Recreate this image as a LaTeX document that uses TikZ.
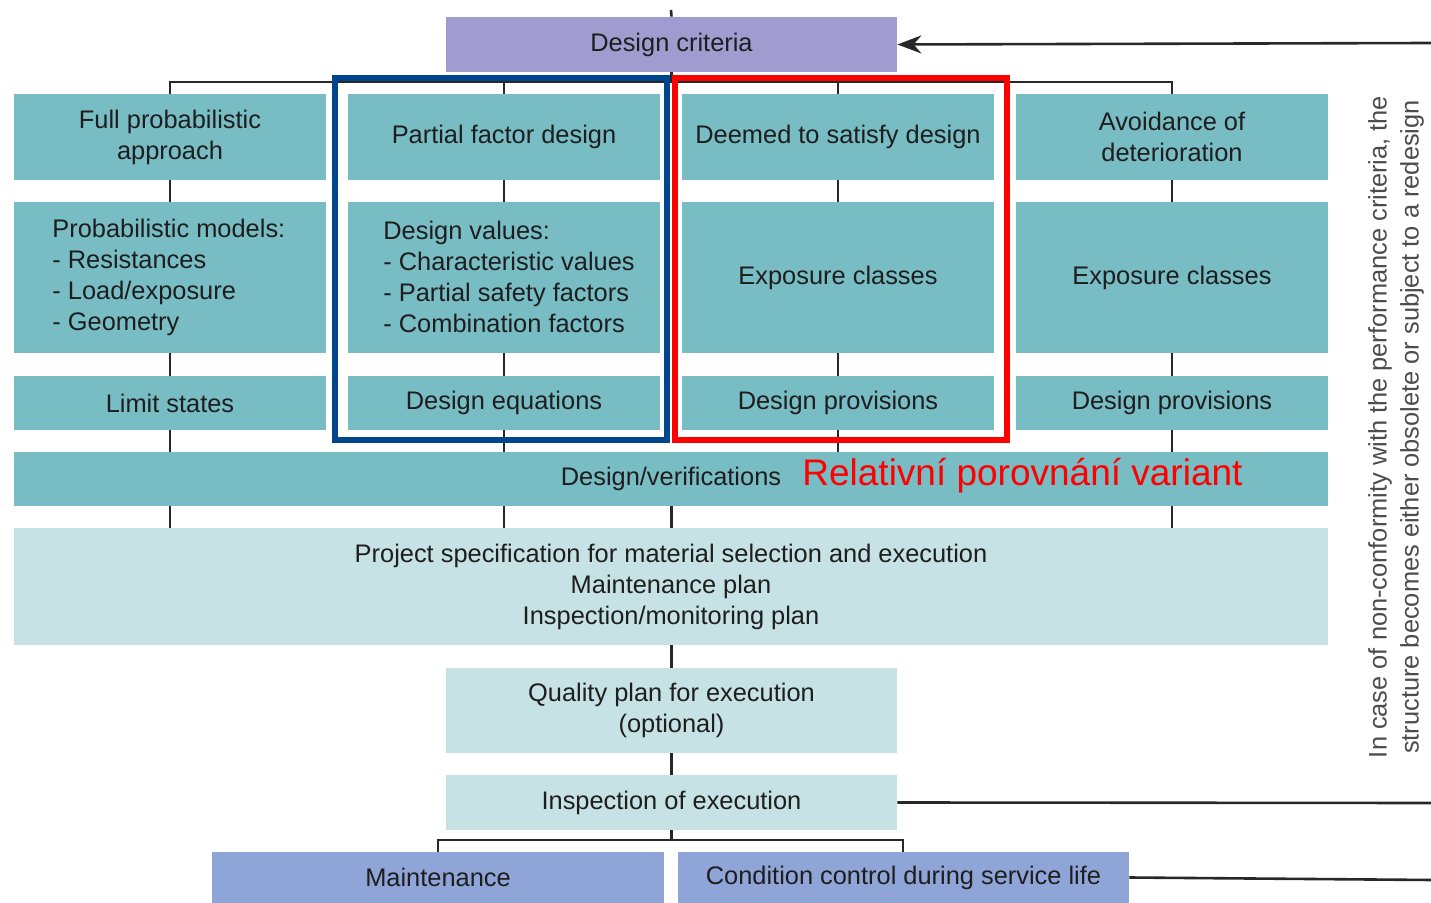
\documentclass[tikz,border=0pt]{standalone}
\usepackage{fontspec}
\setmainfont{Liberation Sans}
\usetikzlibrary{arrows.meta}
\definecolor{teal1}{RGB}{120,188,196}
\definecolor{light1}{RGB}{198,226,228}
\definecolor{lav1}{RGB}{160,156,208}
\definecolor{lav2}{RGB}{143,165,216}
\definecolor{blue1}{RGB}{0,70,140}
\definecolor{red1}{RGB}{255,0,0}
\definecolor{txt}{RGB}{30,30,30}
\definecolor{lin}{RGB}{40,40,40}
\tikzset{
  every node/.style={font=\fontsize{12.7pt}{15.5pt}\selectfont, text=txt},
  box/.style={rectangle, inner sep=2pt, align=center, minimum width=156pt},
  tealbox/.style={box, fill=teal1},
  lightbox/.style={box, fill=light1},
  listtext/.style={anchor=west, align=left, inner sep=0pt},
  conn/.style={draw=lin, line width=1.3pt},
  frame/.style={line width=2.6pt}
}
\begin{document}
\begin{tikzpicture}[x=0.5pt,y=-0.5pt]
\useasboundingbox[fill=white] (0,0) rectangle (1431,903);
% nodes
\node[box, fill=lav1, minimum width=225.5pt, minimum height=27.5pt] (dc) at (671.5,44.5) {Design criteria};
\node[tealbox, minimum height=43pt] (r1c1) at (170,137) {Full probabilistic\\approach};
\node[tealbox, minimum height=43pt] (r1c2) at (504,137) {Partial factor design};
\node[tealbox, minimum height=43pt] (r1c3) at (838,137) {Deemed to satisfy design};
\node[tealbox, minimum height=43pt] (r1c4) at (1172,137) {Avoidance of\\deterioration};
\node[tealbox, minimum height=75.5pt] (r2c1) at (170,277.5) {};
\node[listtext] (r2c1t) at (52,277) {Probabilistic models:\\- Resistances\\- Load/exposure\\- Geometry};
\node[tealbox, minimum height=75.5pt] (r2c2) at (504,277.5) {};
\node[listtext] (r2c2t) at (383,277) {Design values:\\- Characteristic values\\- Partial safety factors\\- Combination factors};
\node[tealbox, minimum height=75.5pt] (r2c3) at (838,277.5) {Exposure classes};
\node[tealbox, minimum height=75.5pt] (r2c4) at (1172,277.5) {Exposure classes};
\node[tealbox, minimum height=27pt] (r3c1) at (170,403) {Limit states};
\node[tealbox, minimum height=27pt] (r3c2) at (504,403) {Design equations};
\node[tealbox, minimum height=27pt] (r3c3) at (838,403) {Design provisions};
\node[tealbox, minimum height=27pt] (r3c4) at (1172,403) {Design provisions};
\node[tealbox, minimum width=657pt, minimum height=27pt] (ver) at (671,479) {Design/verifications};
\node[lightbox, minimum width=657pt, minimum height=58.5pt] (proj) at (671,586.5) {Project specification for material selection and execution\\Maintenance plan\\Inspection/monitoring plan};
\node[lightbox, minimum width=225.5pt, minimum height=42.5pt] (qp) at (671.5,710.5) {Quality plan for execution\\(optional)};
\node[lightbox, minimum width=225.5pt, minimum height=27.5pt] (ins) at (671.5,802.5) {Inspection of execution};
\node[box, fill=lav2, minimum width=226pt, minimum height=25.5pt] (mt) at (438,877.5) {Maintenance};
\node[box, fill=lav2, minimum width=225.5pt, minimum height=25.5pt] (cc) at (903.5,877.5) {Condition control during service life};
% red comparison label
\node[anchor=west, font=\fontsize{18.5pt}{20pt}\selectfont, text=red1, inner sep=0pt] (rel) at (802,476) {Relativní porovnání variant};
% side note
\node[rotate=90, align=center, text=black!70, font=\fontsize{12.7pt}{16pt}\selectfont] (note) at (1396,427) {In case of non-conformity with the performance criteria, the\\structure becomes either obsolete or subject to a redesign};
% coordinates
\coordinate (top) at (671,10);
\coordinate (bus) at (0,82);
\coordinate (bb) at (903,840);
\coordinate (rA) at (1431,43);
\coordinate (rB) at (1431,803);
\coordinate (rC) at (1431,880);
% connectors
\draw[conn] (top) -- (dc.north);
\draw[conn] (dc.south) -- (dc.south |- bus);
\draw[conn] (r1c1.north) -- (r1c1.north |- bus) -- (r1c4.north |- bus) -- (r1c4.north);
\draw[conn] (r1c2.north) -- (r1c2.north |- bus);
\draw[conn] (r1c3.north) -- (r1c3.north |- bus);
\foreach \c in {1,2,3,4}{
  \draw[conn] (r1c\c.south) -- (r2c\c.north);
  \draw[conn] (r2c\c.south) -- (r3c\c.north);
  \draw[conn] (r3c\c.south) -- (ver.north -| r3c\c.south);
}
\foreach \c in {r3c1,r3c2,dc,r3c4}{
  \draw[conn] (ver.south -| \c.south) -- (proj.north -| \c.south);
}
\draw[conn] (proj.south -| qp.north) -- (qp.north);
\draw[conn] (qp.south) -- (ins.north);
\draw[conn] (ins.south) -- (ins.south |- bb);
\draw[conn] (mt.north) |- (bb) -- (bb |- cc.north);
\draw[conn, -{Stealth[length=12pt,width=9pt]}] (rA) -- (dc.east);
\draw[conn] (ins.east) -- (rB);
\draw[conn] (cc.east) -- (rC);
% highlight frames
\draw[frame, draw=blue1] (335,78) rectangle (667,440);
\draw[frame, draw=red1] (675,78) rectangle (1007,440);
\end{tikzpicture}
\end{document}
